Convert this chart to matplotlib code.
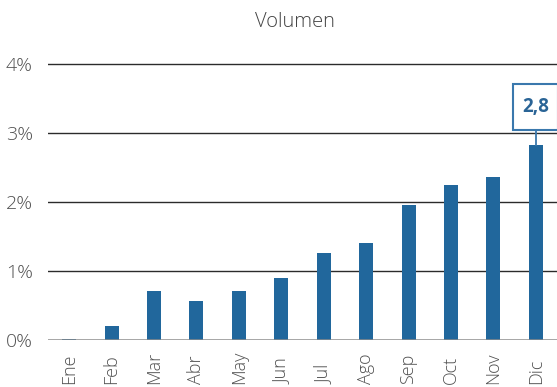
import matplotlib
matplotlib.use('Agg')
import matplotlib.pyplot as plt
from matplotlib.patches import Rectangle

# Monthly volume, percent
months = ['Ene', 'Feb', 'Mar', 'Abr', 'May', 'Jun',
          'Jul', 'Ago', 'Sep', 'Oct', 'Nov', 'Dic']
volume = [0.02, 0.20, 0.71, 0.57, 0.71, 0.90,
          1.26, 1.41, 1.96, 2.24, 2.36, 2.83]
y_ticks = [0, 1, 2, 3, 4]
y_tick_labels = ['0%', '1%', '2%', '3%', '4%']
callout_label = '2,8'

bar_color = '#21679c'
text_gray = '#505050'

plt.rcParams['font.family'] = ['Open Sans', 'DejaVu Sans']

fig = plt.figure(figsize=(5.57, 3.87), dpi=100)
ax = fig.add_axes([48 / 557, 47 / 387, 509 / 557, 290.1 / 387])

x = list(range(len(months)))
ax.bar(x, volume, width=0.33, color=bar_color, zorder=2)

ax.set_xlim(-0.5, len(months) - 0.5)
ax.set_ylim(0, 4.2)

# horizontal grid and grey baseline
for t in y_ticks[1:]:
    ax.axhline(t, color='#2b2b2b', lw=1.0, zorder=1)
ax.axhline(0, color='#8c8c8c', lw=1.8, zorder=3)

for s in ax.spines.values():
    s.set_visible(False)

ax.set_yticks(y_ticks)
ax.set_yticklabels(y_tick_labels, fontsize=14, color=text_gray,
                   fontweight='light')
ax.tick_params(axis='y', length=0, pad=11)

# month labels, rotated and aligned at their start
ax.set_xticks([])
for i, m in enumerate(months):
    ax.text(i, -0.152, m, transform=ax.get_xaxis_transform(),
            rotation=90, ha='center', va='bottom', fontsize=13,
            color=text_gray, fontweight='light')

# callout for the last month
last = len(months) - 1
box_bottom, box_top = 3.04, 3.70
ax.plot([last, last], [volume[last], box_bottom], color='#3a78ad',
        lw=1.3, zorder=3, clip_on=False)
ax.add_patch(Rectangle((last - 0.53, box_bottom), 1.05, box_top - box_bottom,
                       facecolor='white', edgecolor='#3a78ad', lw=1.5,
                       zorder=4, clip_on=False))
ax.text(last, (box_bottom + box_top) / 2, callout_label, ha='center',
        va='center', fontsize=13.5, fontweight='bold', color='#2a6496',
        zorder=5)

fig.text(295 / 557, 1 - 22 / 387, 'Volumen', ha='center', va='center',
         fontsize=14.5, color='#444444', fontweight='light')

fig.savefig('out.png', dpi=100)
